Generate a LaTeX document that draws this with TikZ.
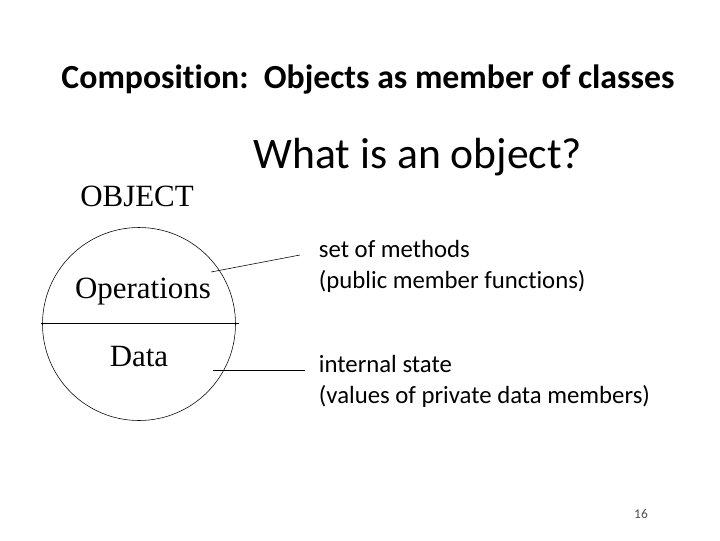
\documentclass[tikz,border=0pt]{standalone}
\usepackage{fontspec}
\setmainfont[Ligatures={NoCommon}]{Carlito}
\newfontfamily\timesfont{Liberation Serif}
\begin{document}
\begin{tikzpicture}[x=0.025cm,y=-0.025cm]
            \useasboundingbox (0,0) rectangle (720,540);
            \tikzset{serif/.style={font=\timesfont\fontsize{22}{26}\selectfont},
                     note/.style={anchor=west,align=left,font=\fontsize{17.6}{22}\selectfont}}

            \node (title) at (368,80) {\fontsize{24}{28}\selectfont\bfseries Composition:\ \ Objects as member of classes};
            \node (question) at (418,157) {\fontsize{31}{36}\selectfont What is an object?};
            \node[serif] (object) at (137,196) {OBJECT};

            \draw (139,324) circle[radius=96.5];
            \draw (41,323) -- (239,323);
            \node[serif] (ops) at (143,292) {Operations};
            \node[serif] (data) at (139,357) {Data};

            \node[note] (methods) at (314,266) {set of methods\\(public member functions)};
            \node[note] (state) at (314,381) {internal state\\(values of private data members)};

            \coordinate (o1) at (211,272);\coordinate (o2) at (300,255);
            \coordinate (d1) at (213,370);\coordinate (d2) at (305,370);
            \draw (o1) -- (o2);
            \draw (d1) -- (d2);

            \node (page) at (641,514) {\fontsize{9.5}{11}\selectfont\color{black!70}16};
        \end{tikzpicture}
\end{document}
